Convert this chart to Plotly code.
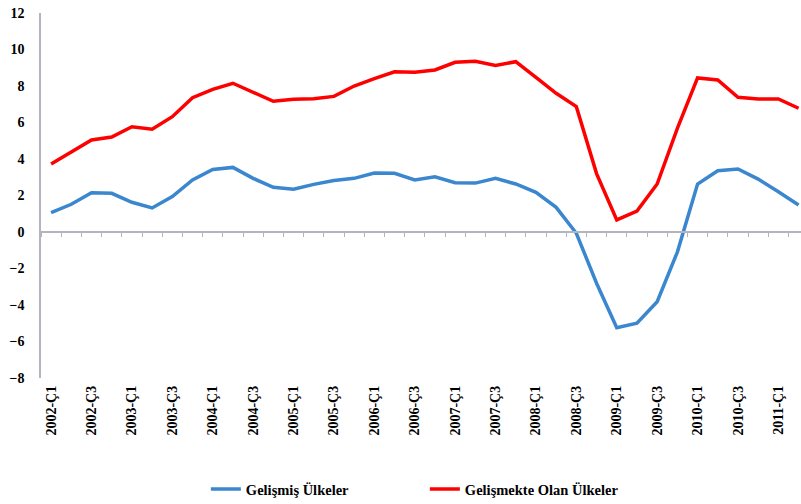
import plotly.graph_objects as go

quarters = [f"{y}-Ç{q}" for y in range(2002, 2012) for q in (1, 2, 3, 4)][:38]

gelismis = [1.06, 1.52, 2.15, 2.12, 1.63, 1.32, 1.94, 2.85, 3.43, 3.54,
            2.94, 2.45, 2.34, 2.61, 2.82, 2.94, 3.23, 3.22, 2.85, 3.03,
            2.70, 2.68, 2.94, 2.63, 2.17, 1.35, -0.07, -2.81, -5.24, -5.00,
            -3.82, -1.10, 2.63, 3.36, 3.45, 2.90, 2.21, 1.48]

gelismekte = [3.73, 4.40, 5.04, 5.20, 5.77, 5.63, 6.32, 7.36, 7.82, 8.15,
              7.67, 7.16, 7.27, 7.30, 7.43, 8.00, 8.40, 8.78, 8.75, 8.88,
              9.30, 9.35, 9.13, 9.33, 8.47, 7.60, 6.87, 3.20, 0.66, 1.15,
              2.63, 5.68, 8.44, 8.33, 7.38, 7.29, 7.29, 6.78]

tick_labels = quarters[::2]
y_ticks = list(range(-8, 13, 2))

idx = list(range(len(quarters)))
font_family = "Liberation Serif"

fig = go.Figure()
fig.add_trace(go.Scatter(x=idx, y=gelismis, mode="lines", name="Gelişmiş Ülkeler",
                         line=dict(color="#3A87CF", width=3.5)))
fig.add_trace(go.Scatter(x=idx, y=gelismekte, mode="lines", name="Gelişmekte Olan Ülkeler",
                         line=dict(color="#FF0000", width=3.5)))

xr = [-0.5, 37.12]
fig.update_layout(
    width=801, height=504,
    margin=dict(l=41, r=0, t=13, b=126, autoexpand=False),
    paper_bgcolor="white", plot_bgcolor="white",
    font=dict(family=font_family, size=14, color="black"),
    showlegend=True,
    legend=dict(orientation="h", xref="container", yref="container",
                x=0.257, y=0.0298, xanchor="left", yanchor="middle",
                font=dict(family=font_family, size=14.5, color="black", weight="bold"),
                itemwidth=30, entrywidth=174, entrywidthmode="pixels"),
    xaxis=dict(range=xr, showgrid=False, zeroline=False, showline=False, automargin=False,
               tickvals=idx[::2], ticktext=tick_labels, tickangle=-90,
               ticks="", tickfont=dict(family=font_family, size=14, weight="bold"),
               ticklabelstandoff=4),
    xaxis2=dict(range=xr, overlaying="x", anchor="free", position=0.4, side="bottom",
                automargin=False,
                showgrid=False, zeroline=False, showline=True, linecolor="#B4B4BC", linewidth=1.5,
                tickvals=[i - 0.5 for i in idx], ticks="outside", ticklen=4,
                tickcolor="#B4B4BC", tickwidth=1.2, showticklabels=False),
    yaxis=dict(range=[-8, 12], tickvals=y_ticks, showgrid=False, zeroline=False,
               showline=True, linecolor="#B4B4BC", linewidth=1.5, ticks="", automargin=False,
               tickfont=dict(family=font_family, size=14, weight="bold"),
               ticklabelstandoff=12),
)
fig.add_trace(go.Scatter(x=[idx[0]], y=[None], xaxis="x2", showlegend=False, hoverinfo="skip"))
fig.write_html("out.html", config={"displayModeBar": False},
               post_script="document.body.style.margin='0';")
